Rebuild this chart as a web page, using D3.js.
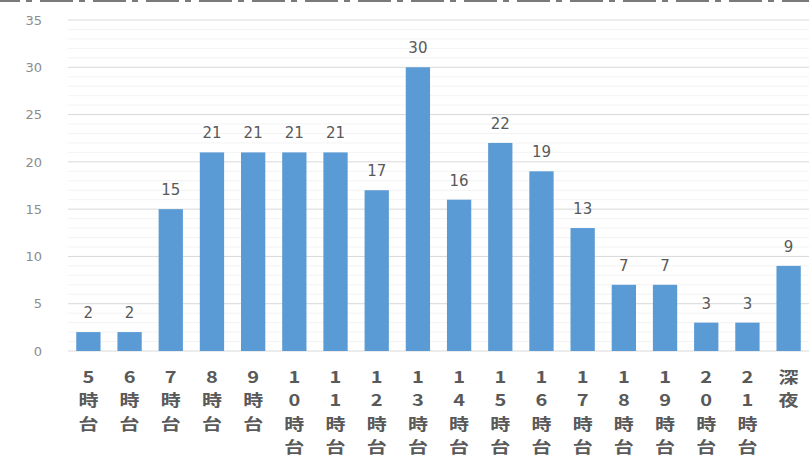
<!DOCTYPE html>
<html>
<head>
<meta charset="utf-8">
<script src="https://cdn.jsdelivr.net/npm/d3@7"></script>
<style>
  body { margin: 0; background: #fff; }
  svg { display: block; }
</style>
</head>
<body>
<div class="chart"></div>
<script>
var svgWidth = 809;
var svgHeight = 462;

var margin = { top: 20, right: 0, bottom: 111, left: 68 };

var width = svgWidth - margin.left - margin.right;
var height = svgHeight - margin.top - margin.bottom;

// categories (each character is drawn on its own line)
var categories = ["5時台", "6時台", "7時台", "8時台", "9時台", "10時台", "11時台", "12時台",
  "13時台", "14時台", "15時台", "16時台", "17時台", "18時台", "19時台", "20時台", "21時台", "深夜"];
var values = [2, 2, 15, 21, 21, 21, 21, 17, 30, 16, 22, 19, 13, 7, 7, 3, 3, 9];
var yTicks = [0, 5, 10, 15, 20, 25, 30, 35];

var svg = d3.select(".chart")
  .append("svg")
  .attr("width", svgWidth)
  .attr("height", svgHeight);

// cut-off strip at the very top
svg.append("line")
  .attr("x1", 0).attr("x2", svgWidth)
  .attr("y1", 1).attr("y2", 1)
  .attr("stroke", "#7a7a7a")
  .attr("stroke-width", 2)
  .attr("stroke-dasharray", "33,6,6,8")
  .attr("stroke-dashoffset", 13);

var chartGroup = svg.append("g")
  .attr("transform", `translate(${margin.left}, ${margin.top})`);

var xScale = d3.scaleBand()
  .domain(categories)
  .range([0, width])
  .paddingInner(0.41)
  .paddingOuter(0.2);

var yScale = d3.scaleLinear()
  .domain([0, 35])
  .range([height, 0]);

// minor gridlines
chartGroup.append("g")
  .selectAll("line")
  .data(d3.range(0, 36, 1).filter(d => d % 5 !== 0))
  .enter()
  .append("line")
  .attr("x1", 0).attr("x2", width)
  .attr("y1", d => yScale(d)).attr("y2", d => yScale(d))
  .attr("stroke", "#f3f3f3")
  .attr("stroke-width", 1);

// major gridlines
chartGroup.append("g")
  .selectAll("line")
  .data(yTicks)
  .enter()
  .append("line")
  .attr("x1", 0).attr("x2", width)
  .attr("y1", d => yScale(d)).attr("y2", d => yScale(d))
  .attr("stroke", "#d9d9d9")
  .attr("stroke-width", 1);

// y axis labels
var leftAxis = d3.axisLeft(yScale).tickValues(yTicks).tickSize(0).tickPadding(26);
var yAxis = chartGroup.append("g").call(leftAxis);
yAxis.select(".domain").remove();
yAxis.selectAll("text")
  .attr("font-family", "DejaVu Sans")
  .attr("font-size", "13px")
  .attr("fill", "#8c8c8c");

// bars
chartGroup.selectAll("rect.bar")
  .data(values)
  .enter()
  .append("rect")
  .attr("class", "bar")
  .attr("x", (d, i) => xScale(categories[i]))
  .attr("y", d => yScale(d))
  .attr("width", xScale.bandwidth())
  .attr("height", d => height - yScale(d))
  .attr("fill", "#5b9bd5");

// value labels
chartGroup.selectAll("text.val")
  .data(values)
  .enter()
  .append("text")
  .attr("class", "val")
  .attr("x", (d, i) => xScale(categories[i]) + xScale.bandwidth() / 2)
  .attr("y", d => yScale(d) - 14)
  .attr("text-anchor", "middle")
  .attr("font-family", "DejaVu Sans")
  .attr("font-size", "15px")
  .attr("fill", "#595959")
  .text(d => d);

// stacked category labels, one text per character, a little wide like the original
var catGroups = chartGroup.selectAll("g.cat")
  .data(categories)
  .enter()
  .append("g")
  .attr("class", "cat")
  .attr("transform", d => `translate(${xScale(d) + xScale.bandwidth() / 2}, ${height + 32}) scale(1.25, 1)`);

catGroups.selectAll("text")
  .data(d => Array.from(d))
  .enter()
  .append("text")
  .attr("y", (d, i) => i * 23.3)
  .attr("text-anchor", "middle")
  .attr("font-family", "Noto Sans CJK JP")
  .attr("font-size", "16px")
  .attr("font-weight", "bold")
  .attr("fill", "#595959")
  .text(d => d);
</script>
</body>
</html>
